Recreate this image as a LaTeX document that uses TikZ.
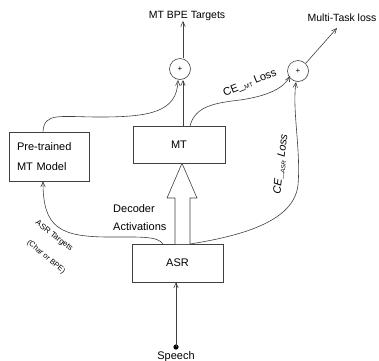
\documentclass[tikz,border=0pt]{standalone}
\usepackage{fontspec}
\setmainfont{Liberation Sans}
\usetikzlibrary{arrows.meta}
\begin{document}
\begin{tikzpicture}[x=1pt,y=-1pt,
  line/.style={draw=black!75, line width=0.6pt},
  arr/.style={line, -{Straight Barb[length=5pt,width=4.5pt]}},
  boxnode/.style={draw=black!75, line width=0.6pt, rectangle, inner sep=0pt},
  plusnode/.style={draw=black!75, line width=0.6pt, circle, minimum size=21pt, inner sep=0pt, font=\fontsize{8}{9}\selectfont},
  lbl/.style={font=\fontsize{11}{13}\selectfont, inner sep=0pt}
]
\useasboundingbox (0,0) rectangle (379,360);

% boxes
\node[boxnode, minimum width=80pt, minimum height=49pt, text width=64pt, align=left,
  font=\fontsize{11}{20}\selectfont] (pre) at (49,156.5) {Pre-trained\\MT Model};
\node[boxnode, minimum width=92pt, minimum height=37pt, font=\fontsize{11}{13}\selectfont] (mt) at (179,144.5) {MT};
\node[boxnode, minimum width=91pt, minimum height=38pt, font=\fontsize{11}{13}\selectfont] (asr) at (177.5,263) {ASR};

% plus circles
\node[plusnode] (plusL) at (180,69) {+};
\node[plusnode] (plusR) at (298,71) {+};

% top labels
\node[lbl, font=\fontsize{10.5}{13}\selectfont] (bpe) at (187,16) {MT BPE Targets};
\node[lbl, font=\fontsize{10.5}{13}\selectfont] (mtl) at (342,18) {Multi-Task loss};
\coordinate (mtlend) at (337,28);

% speech
\fill[black] (176,347) circle (2.6pt);
\coordinate (sp) at (176,347);
\node[lbl, anchor=north] (speech) at (176,351) {Speech};

% arrows
\draw[arr] (sp) -- (asr.south -| sp);
\draw[arr] (plusL.north -| 183,0) -- (bpe.south -| 183,0);
\draw[arr] (plusR.45) -- (mtlend);
\draw[arr] (mt.north -| 183,0) -- (183,80);
\draw[arr] ([xshift=-6pt]pre.north) .. controls (44,112) and (60,117) .. (100,117)
   .. controls (150,117) and (177,112) .. (178,80);

% hollow arrow from ASR to MT
\draw[line, fill=white] (175,244) -- (175,198) -- (167,198) -- (182,163.3) -- (197,198) -- (190,198) -- (190,244);

% ASR targets curve
\draw[arr] (163,244) .. controls (158,236) and (140,237) .. (110,237)
   .. controls (60,237) and (43,228) .. ([xshift=-6pt]pre.south);

% CE MT loss curve
\draw[arr] (190,126) .. controls (195,106) and (215,103) .. (240,100)
   .. controls (268,96) and (284,88) .. (290,76);

% CE ASR loss curve
\draw[arr] (190,244) .. controls (240,236) and (294,222) .. (298,185)
   .. controls (301,150) and (292,110) .. (296,82);

% labels
\node[lbl, anchor=west, align=left, font=\fontsize{11}{18}\selectfont] (dec) at (113,218) {Decoder\\Activations};
\node[lbl, rotate=-38, font=\fontsize{8}{9}\selectfont] (asrt) at (54,236) {ASR Targets};
\node[lbl, rotate=-40, font=\fontsize{7.5}{9}\selectfont] (charbpe) at (46,257) {(Char or BPE)};
\node[lbl, rotate=22] (cemt) at (250,83) {CE\_\raisebox{-0.3ex}{\fontsize{6}{7}\selectfont MT} Loss};
\node[lbl, rotate=83] (ceasr) at (281,164) {\itshape CE\_\raisebox{-0.3ex}{\fontsize{6}{7}\selectfont ASR} Loss};
\end{tikzpicture}
\end{document}
